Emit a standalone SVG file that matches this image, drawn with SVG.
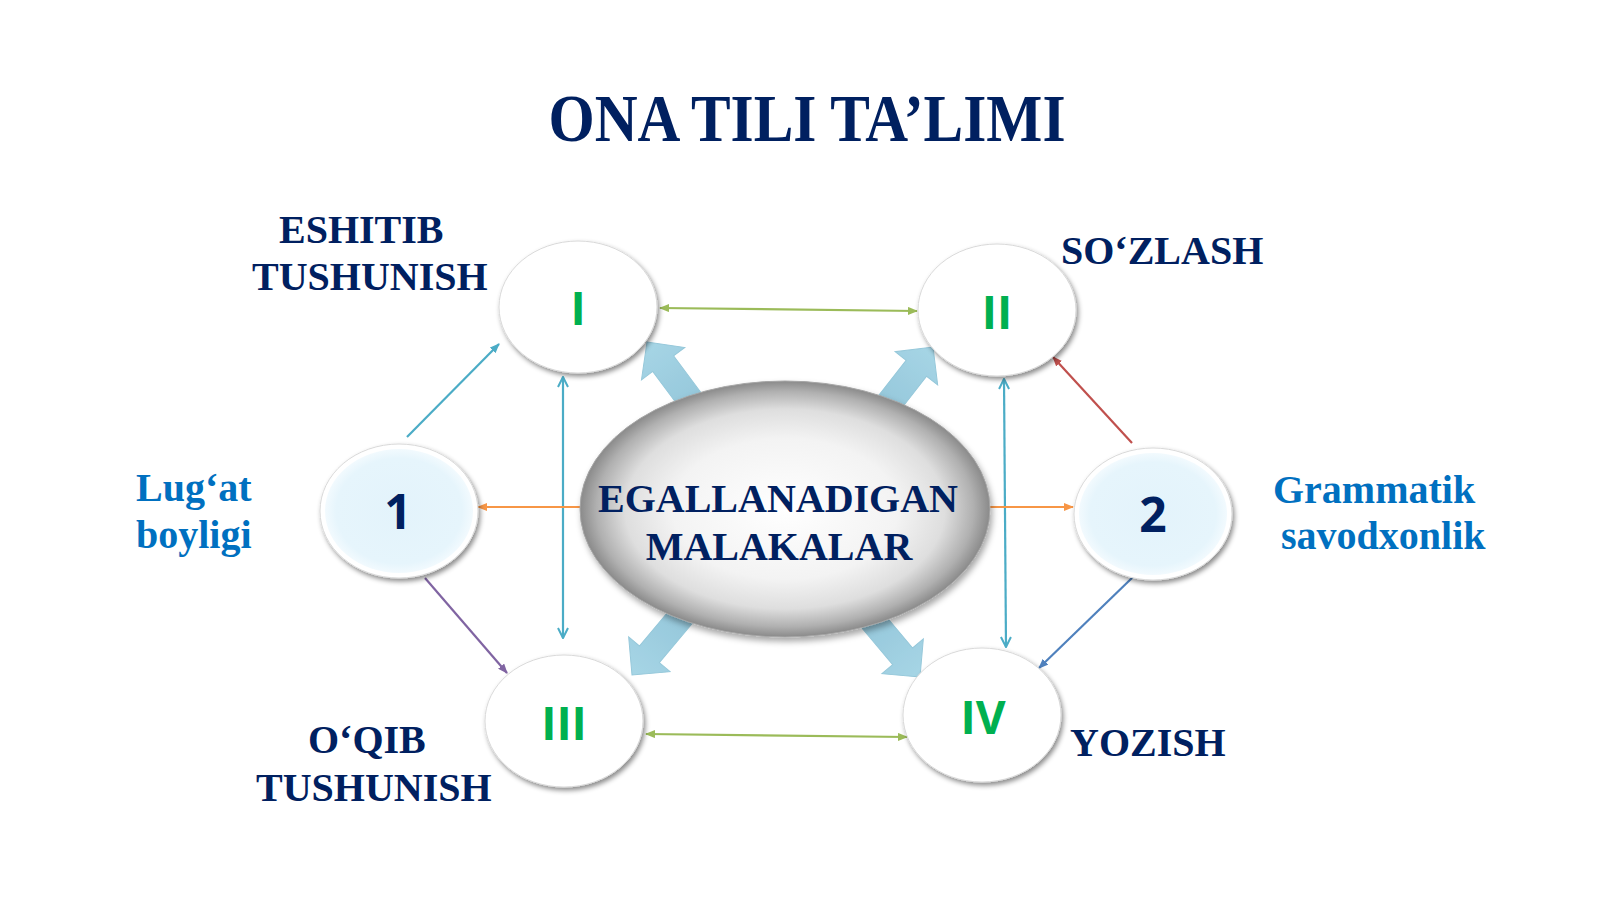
<svg xmlns="http://www.w3.org/2000/svg" width="1600" height="900" viewBox="0 0 1600 900">
<defs>
<style>
.t{font-family:"Liberation Serif","Times New Roman",serif;font-weight:bold;fill:#002060}
.lbl{font-size:40px}
.blu{fill:#0070C0}
.num{font-family:"Open Sans","Liberation Sans",sans-serif;font-weight:bold;text-anchor:middle}
.g{fill:#00B050;font-size:46px}
.n{fill:#002060;font-size:48px}
.ln{fill:none;stroke-width:2.2}
.ell{fill:#ffffff;stroke:#d9d9d9;stroke-width:1;filter:url(#sh)}
.blk{fill:url(#bg);stroke:#7fbcd2;stroke-width:1;opacity:0.82}
</style>
<filter id="sh" x="-20%" y="-20%" width="140%" height="150%">
<feDropShadow dx="2" dy="3" stdDeviation="2.5" flood-color="#000" flood-opacity="0.45"/>
</filter>
<filter id="sh2" x="-10%" y="-10%" width="120%" height="130%">
<feDropShadow dx="2" dy="4" stdDeviation="3" flood-color="#000" flood-opacity="0.35"/>
</filter>
<radialGradient id="cg" cx="50%" cy="50%" r="50%">
<stop offset="0" stop-color="#ffffff"/>
<stop offset="0.55" stop-color="#f3f3f3"/>
<stop offset="0.78" stop-color="#dedede"/>
<stop offset="0.92" stop-color="#b0b0b0"/>
<stop offset="1" stop-color="#8a8a8a"/>
</radialGradient>
<radialGradient id="lb" cx="50%" cy="50%" r="50%">
<stop offset="0" stop-color="#e3f3fb"/>
<stop offset="0.85" stop-color="#e6f5fc"/>
<stop offset="1" stop-color="#f2fafe"/>
</radialGradient>
<linearGradient id="bg" x1="0" y1="0" x2="0" y2="1">
<stop offset="0" stop-color="#94cde1"/>
<stop offset="1" stop-color="#7ab8d0"/>
</linearGradient>
<marker id="mg" viewBox="0 0 10 8" refX="9" refY="4" markerWidth="10" markerHeight="8" markerUnits="userSpaceOnUse" orient="auto-start-reverse"><path d="M0,0 L10,4 L0,8 z" fill="#9BBB59"/></marker>
<marker id="mo" viewBox="0 0 10 8" refX="9" refY="4" markerWidth="10" markerHeight="8" markerUnits="userSpaceOnUse" orient="auto-start-reverse"><path d="M0,0 L10,4 L0,8 z" fill="#F79646"/></marker>
<marker id="mt" viewBox="0 0 10 8" refX="9" refY="4" markerWidth="10" markerHeight="8" markerUnits="userSpaceOnUse" orient="auto-start-reverse"><path d="M0,0 L10,4 L0,8 z" fill="#4BACC6"/></marker>
<marker id="mr" viewBox="0 0 10 8" refX="9" refY="4" markerWidth="10" markerHeight="8" markerUnits="userSpaceOnUse" orient="auto-start-reverse"><path d="M0,0 L10,4 L0,8 z" fill="#C0504D"/></marker>
<marker id="mp" viewBox="0 0 10 8" refX="9" refY="4" markerWidth="10" markerHeight="8" markerUnits="userSpaceOnUse" orient="auto-start-reverse"><path d="M0,0 L10,4 L0,8 z" fill="#8064A2"/></marker>
<marker id="mb" viewBox="0 0 10 8" refX="9" refY="4" markerWidth="10" markerHeight="8" markerUnits="userSpaceOnUse" orient="auto-start-reverse"><path d="M0,0 L10,4 L0,8 z" fill="#4F81BD"/></marker>
<marker id="mv" viewBox="0 0 12 12" refX="11" refY="6" markerWidth="12" markerHeight="12" markerUnits="userSpaceOnUse" orient="auto-start-reverse"><path d="M1,1 L11,6 L1,11" fill="none" stroke="#4BACC6" stroke-width="2"/></marker>
<path id="ba" d="M0,0 L27,27 L13,27 L13,95 L-13,95 L-13,27 L-27,27 Z"/>
</defs>
<rect width="1600" height="900" fill="#ffffff"/>

<g id="title">
<text class="t" x="807" y="141" text-anchor="middle" font-size="68" textLength="517" lengthAdjust="spacingAndGlyphs">ONA TILI TA’LIMI</text>
</g>

<g id="connectors">
<line class="ln" x1="660" y1="308" x2="917" y2="311" stroke="#9BBB59" marker-start="url(#mg)" marker-end="url(#mg)"/>
<line class="ln" x1="646" y1="734" x2="907" y2="737" stroke="#9BBB59" marker-start="url(#mg)" marker-end="url(#mg)"/>
<line class="ln" x1="563" y1="377" x2="563" y2="638" stroke="#4BACC6" stroke-width="2.5" marker-start="url(#mv)" marker-end="url(#mv)"/>
<line class="ln" x1="1004" y1="379" x2="1006" y2="647" stroke="#4BACC6" stroke-width="2.5" marker-start="url(#mv)" marker-end="url(#mv)"/>
<line class="ln" x1="585" y1="507" x2="478" y2="507" stroke="#F79646" marker-end="url(#mo)"/>
<line class="ln" x1="985" y1="507" x2="1073" y2="507" stroke="#F79646" marker-end="url(#mo)"/>
<line class="ln" x1="407" y1="437" x2="499" y2="344" stroke="#4BACC6" marker-end="url(#mt)"/>
<line class="ln" x1="1132" y1="443" x2="1053" y2="357" stroke="#C0504D" marker-end="url(#mr)"/>
<line class="ln" x1="425" y1="578" x2="507" y2="673" stroke="#8064A2" marker-end="url(#mp)"/>
<line class="ln" x1="1133" y1="577" x2="1039" y2="668" stroke="#4F81BD" marker-end="url(#mb)"/>
<use href="#ba" class="blk" transform="translate(647,342) rotate(-36.7)"/>
<use href="#ba" class="blk" transform="translate(933,347) rotate(38)"/>
<use href="#ba" class="blk" transform="translate(632,675) rotate(-140)"/>
<use href="#ba" class="blk" transform="translate(920,677) rotate(140)"/>
</g>

<g id="center">
<ellipse cx="785" cy="509" rx="205" ry="128" fill="url(#cg)" stroke="#a6a6a6" stroke-width="1" filter="url(#sh2)"/>
<text class="t" x="778" y="512" text-anchor="middle" font-size="40">EGALLANADIGAN</text>
<text class="t" x="779" y="560" text-anchor="middle" font-size="40">MALAKALAR</text>
</g>

<g id="node-I">
<ellipse class="ell" cx="578" cy="307" rx="79" ry="66"/>
<text class="num g" x="578" y="325">I</text>
<text class="t lbl" x="279" y="243">ESHITIB</text>
<text class="t lbl" x="252" y="290">TUSHUNISH</text>
</g>

<g id="node-II">
<ellipse class="ell" cx="997" cy="310" rx="79" ry="66"/>
<text class="num g" x="997" y="329">II</text>
<text class="t lbl" x="1061" y="264">SO‘ZLASH</text>
</g>

<g id="node-III">
<ellipse class="ell" cx="564" cy="721" rx="79" ry="66"/>
<text class="num g" x="564" y="740">III</text>
<text class="t lbl" x="308" y="753">O‘QIB</text>
<text class="t lbl" x="256" y="801">TUSHUNISH</text>
</g>

<g id="node-IV">
<ellipse class="ell" cx="982" cy="715" rx="79" ry="67"/>
<text class="num g" x="983" y="734">IV</text>
<text class="t lbl" x="1070" y="756">YOZISH</text>
</g>

<g id="node-1">
<ellipse class="ell" cx="399" cy="511" rx="79" ry="67"/>
<ellipse cx="399" cy="511" rx="74" ry="62" fill="url(#lb)"/>
<text class="num n" x="398" y="529">1</text>
<text class="t lbl blu" x="136" y="501">Lug‘at</text>
<text class="t lbl blu" x="136" y="548">boyligi</text>
</g>

<g id="node-2">
<ellipse class="ell" cx="1153" cy="514" rx="79" ry="66"/>
<ellipse cx="1153" cy="514" rx="74" ry="61" fill="url(#lb)"/>
<text class="num n" x="1153" y="532">2</text>
<text class="t lbl blu" x="1273" y="503">Grammatik</text>
<text class="t lbl blu" x="1281" y="549">savodxonlik</text>
</g>
</svg>
